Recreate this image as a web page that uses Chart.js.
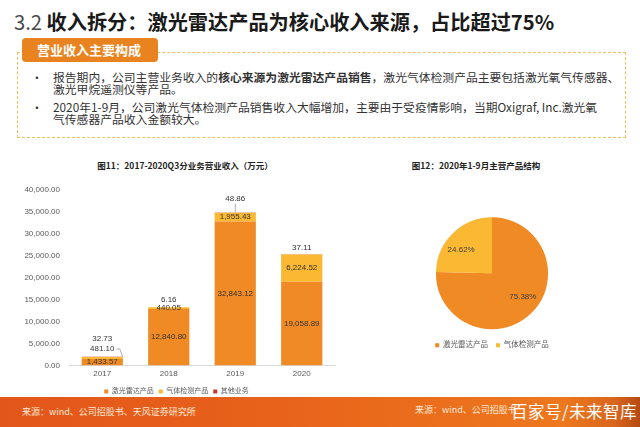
<!DOCTYPE html>
<html lang="zh-CN">
<head>
<meta charset="utf-8">
<script src="https://cdn.jsdelivr.net/npm/chart.js@4.4.1/dist/chart.umd.min.js"></script>
<style>
  html, body { margin: 0; padding: 0; }
  body { width: 640px; height: 427px; position: relative; overflow: hidden; background: #fff;
         font-family: "Noto Sans CJK SC", "Noto Sans", sans-serif; }
  .abs { position: absolute; white-space: nowrap; }
  #title { left: 14px; top: 7px; font-size: 20.2px; line-height: 30px; font-weight: 700; color: #1a1a1a; }
  #title .num { color: #4a4a4a; font-weight: 400; }
  #frame { left: 17px; top: 52px; width: 607px; height: 84px; border: 1px dashed #efc35c; }
  #tag { left: 22px; top: 38px; width: 136px; height: 24px; background: #e98320; border-radius: 4px;
         color: #fff; font-size: 13px; line-height: 24px; font-weight: 700; text-indent: 15px; }
  .bullet { left: 31px; font-size: 11.8px; line-height: 12px; color: #333; }
  .text { left: 53px; font-size: 11.8px; line-height: 12px; color: #333; }
  .ctitle { font-size: 8.5px; font-weight: 700; color: #222; transform: translateX(-50%); }
  #barWrap { left: 0; top: 176px; width: 345px; height: 229px; }
  #pieWrap { left: 380px; top: 205px; width: 224px; height: 154px; }
  #footer { left: 0; top: 397px; width: 640px; height: 30px;
            background: linear-gradient(90deg, #e3561b 0%, #e8631a 45%, #ee781e 88%, #d9661c 96%, #b54b14 100%); }
  .src { font-size: 9px; color: #fde9d6; }
  #mark { left: 511px; top: 401px; font-size: 16.5px; line-height: 20px; color: #fff; letter-spacing: 0.5px; }
</style>
</head>
<body>
<div id="title" class="abs"><span class="num">3.2 </span>收入拆分：激光雷达产品为核心收入来源，占比超过75%</div>
<div id="frame" class="abs"></div>
<div id="tag" class="abs">营业收入主要构成</div>
<div class="abs bullet" style="top:71px">•</div>
<div class="abs text" style="top:71px">报告期内，公司主营业务收入的<b>核心来源为激光雷达产品销售</b>，激光气体检测产品主要包括激光氧气传感器、<br>激光甲烷遥测仪等产品。</div>
<div class="abs bullet" style="top:101px">•</div>
<div class="abs text" style="top:101px">2020年1-9月，公司激光气体检测产品销售收入大幅增加，主要由于受疫情影响，当期Oxigraf, Inc.激光氧<br>气传感器产品收入金额较大。</div>

<div class="abs ctitle" style="left:185px; top:159px">图11：2017-2020Q3分业务营业收入（万元）</div>
<div class="abs ctitle" style="left:476px; top:159px">图12：2020年1-9月主营产品结构</div>

<div id="barWrap" class="abs"><canvas id="barChart"></canvas></div>
<div id="pieWrap" class="abs"><canvas id="pieChart"></canvas></div>

<div id="footer" class="abs"></div>
<div class="abs src" style="left:22px; top:405px">来源：wind、公司招股书、天风证券研究所</div>
<div class="abs src" style="left:415px; top:403px">来源：wind、公司招股书</div>
<div id="mark" class="abs">百家号/未来智库</div>

<script>
// 图11 数据（万元）
const YEARS = ["2017", "2018", "2019", "2020"];
const LIDAR = [1433.57, 12840.80, 32843.12, 19058.89];
const GAS = [481.10, 440.05, 1955.43, 6224.52];
const OTHER = [32.73, 6.16, 48.86, 37.11];
const SERIES_NAMES = ["激光雷达产品", "气体检测产品", "其他业务"];

// 图12 数据（%）
const PIE_NAMES = ["激光雷达产品", "气体检测产品"];
const PIE_SHARE = [75.38, 24.62];

const ORANGE = "#f08a24";
const YELLOW = "#fbb832";
const RED = "#c8372d";
const NUM_FONT = '"Liberation Sans", Arial, "Noto Sans CJK SC", sans-serif';

Chart.defaults.font.family = NUM_FONT;
Chart.defaults.color = "#595959";

const fmt = (v) => v.toLocaleString("en-US", { minimumFractionDigits: 2, maximumFractionDigits: 2 });

// 标签往上抬的像素（按系列、按年份），小块的数字挪到柱顶上方
const LABEL_LIFT = [[0, 0, 0, 0], [9, 0, 0, 0], [18, 7, 14, 7]];

const barLabels = {
  id: "barLabels",
  afterDatasetsDraw(chart) {
    const ctx = chart.ctx;
    ctx.save();
    ctx.font = "8px " + NUM_FONT;
    ctx.fillStyle = "#333";
    ctx.strokeStyle = "#9a9a9a";
    ctx.lineWidth = 0.8;
    ctx.textAlign = "center";
    ctx.textBaseline = "middle";
    chart.data.datasets.forEach((ds, di) => {
      chart.getDatasetMeta(di).data.forEach((bar, i) => {
        const lift = LABEL_LIFT[di][i];
        const y = di === 2 ? bar.y - lift : (bar.y + bar.base) / 2 - lift;
        const text = fmt(ds.data[i]);
        ctx.fillText(text, bar.x, y);
        if (di === 1 && lift > 0) {
          const w = ctx.measureText(text).width;
          ctx.beginPath();
          ctx.moveTo(bar.x + w / 2 + 2, y);
          ctx.lineTo(bar.x + bar.width / 2 - 3, y);
          ctx.lineTo(bar.x + bar.width / 2, bar.y);
          ctx.stroke();
        }
        if (di === 2 && lift > 10 && i > 0) {
          ctx.beginPath();
          ctx.moveTo(bar.x, y + 5);
          ctx.lineTo(bar.x, bar.y);
          ctx.stroke();
        }
      });
    });
    ctx.restore();
  },
};

new Chart(document.getElementById("barChart"), {
  type: "bar",
  data: {
    labels: YEARS,
    datasets: [
      { label: SERIES_NAMES[0], data: LIDAR, backgroundColor: ORANGE },
      { label: SERIES_NAMES[1], data: GAS, backgroundColor: YELLOW },
      { label: SERIES_NAMES[2], data: OTHER, backgroundColor: RED },
    ],
  },
  options: {
    responsive: true,
    maintainAspectRatio: false,
    animation: false,
    datasets: { bar: { categoryPercentage: 1, barPercentage: 0.62, borderWidth: 0 } },
    layout: { padding: { left: 18, right: 10, top: 14, bottom: 0 } },
    scales: {
      x: {
        stacked: true,
        grid: { display: false, drawTicks: false },
        border: { display: true, color: "#d9d9d9" },
        ticks: { font: { size: 8 }, padding: 4, color: "#595959" },
      },
      y: {
        stacked: true,
        min: 0,
        max: 40000,
        grid: { display: false, drawTicks: false },
        border: { display: false },
        ticks: { stepSize: 5000, font: { size: 8 }, padding: 9, color: "#595959", callback: (v) => fmt(v) },
        afterFit: (scale) => { scale.width = 51; },
      },
    },
    plugins: {
      legend: {
        position: "bottom",
        labels: { boxWidth: 4, boxHeight: 4, padding: 5, font: { size: 7 }, color: "#595959" },
      },
      tooltip: { enabled: false },
    },
  },
  plugins: [barLabels],
});

// 百分比标签：半径 0.69 处，角度略向水平方向偏
const PIE_LABEL_R = 0.69;
const PIE_LABEL_TURN = -0.15;

const pieLabels = {
  id: "pieLabels",
  afterDatasetsDraw(chart) {
    const ctx = chart.ctx;
    ctx.save();
    ctx.font = "8px " + NUM_FONT;
    ctx.fillStyle = "#404040";
    ctx.textAlign = "center";
    ctx.textBaseline = "middle";
    chart.getDatasetMeta(0).data.forEach((arc, i) => {
      const a = (arc.startAngle + arc.endAngle) / 2 + PIE_LABEL_TURN;
      const r = arc.outerRadius * PIE_LABEL_R;
      ctx.fillText(PIE_SHARE[i].toFixed(2) + "%", arc.x + Math.cos(a) * r, arc.y + Math.sin(a) * r);
    });
    ctx.restore();
  },
};

new Chart(document.getElementById("pieChart"), {
  type: "pie",
  data: {
    labels: PIE_NAMES,
    datasets: [{ data: PIE_SHARE, backgroundColor: [ORANGE, YELLOW], borderWidth: 0 }],
  },
  options: {
    responsive: true,
    maintainAspectRatio: false,
    animation: false,
    radius: "93%",
    layout: { padding: { top: 8, bottom: 0 } },
    plugins: {
      legend: {
        position: "bottom",
        labels: { boxWidth: 4, boxHeight: 4, padding: 8, font: { size: 7.5 }, color: "#595959" },
      },
      tooltip: { enabled: false },
    },
  },
  plugins: [pieLabels],
});
</script>
</body>
</html>
